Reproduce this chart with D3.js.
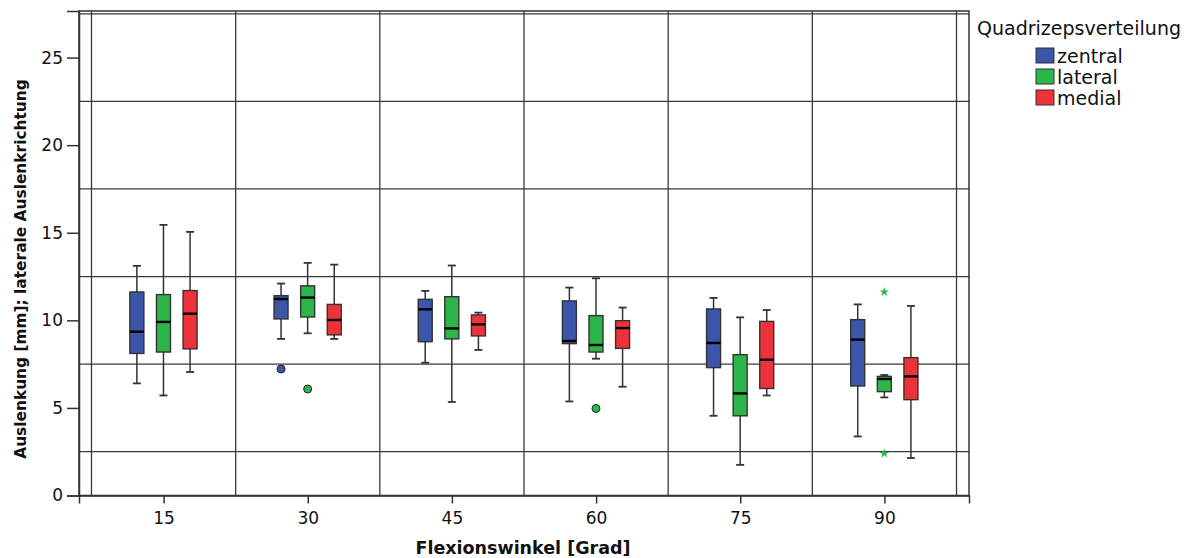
<!DOCTYPE html>
<html><head><meta charset="utf-8">
<script src="https://cdn.jsdelivr.net/npm/d3@7"></script>
<style>
html,body{margin:0;padding:0;background:#fff;}
svg{display:block;font-family:"DejaVu Sans",sans-serif;}
</style></head>
<body>
<svg id="chart" width="1194" height="558"></svg>
<script>
// Flexion angles (categories)
const angles = [15, 30, 45, 60, 75, 90];
const groups = ["zentral", "lateral", "medial"];
const colors = ["#3b56a8", "#2cb64a", "#ee3239"];
// five-number summaries per angle: [min, q1, median, q3, max]
const zentral = [
  [6.40, 8.11, 9.35, 11.62, 13.11],
  [8.94, 10.08, 11.22, 11.41, 12.10],
  [7.58, 8.78, 10.63, 11.20, 11.68],
  [5.37, 8.67, 8.82, 11.11, 11.87],
  [4.55, 7.30, 8.71, 10.65, 11.28],
  [3.37, 6.25, 8.90, 10.04, 10.91]
];
const lateral = [
  [5.71, 8.19, 9.91, 11.47, 15.45],
  [9.26, 10.19, 11.30, 11.97, 13.28],
  [5.34, 8.94, 9.54, 11.35, 13.13],
  [7.81, 8.19, 8.59, 10.27, 12.40],
  [1.75, 4.55, 5.83, 8.04, 10.17],
  [5.60, 5.93, 6.65, 6.80, 6.88]
];
const medial = [
  [7.05, 8.37, 10.38, 11.70, 15.05],
  [8.94, 9.17, 10.02, 10.91, 13.18],
  [8.31, 9.11, 9.77, 10.31, 10.44],
  [6.21, 8.40, 9.56, 9.98, 10.73],
  [5.71, 6.11, 7.75, 9.94, 10.59],
  [2.14, 5.47, 6.80, 7.87, 10.82]
];
// outliers (circles): [angle, group, value]
const outliers = [[30, "zentral", 7.22], [30, "lateral", 6.08], [60, "lateral", 4.97]];
// extreme values (stars)
const extremes = [[90, "lateral", 11.62], [90, "lateral", 2.40]];
const yTicks = [0, 5, 10, 15, 20, 25];
const yGrid = [2.5, 7.5, 12.5, 17.5, 22.5, 27.5];
const xGrid = [7.5, 22.5, 37.5, 52.5, 67.5, 82.5, 97.5];

const stats = {zentral, lateral, medial};
const svg = d3.select("#chart");
const L = 79, R = 969, T = 11, B = 495.5;
const x = d3.scaleLinear().domain([6.2, 98.8]).range([L, R]);
const y = d3.scaleLinear().domain([0, 27.66]).range([B, T]);
const off = d3.scalePoint().domain(groups).range([-26.7, 26.5]);
const color = d3.scaleOrdinal().domain(groups).range(colors);
const bw = 14;

const gridCol = "#3a3a3a";
// gridlines
svg.append("g").selectAll("line").data(yGrid).join("line")
  .attr("x1", L).attr("x2", R).attr("y1", d => y(d)).attr("y2", d => y(d))
  .attr("stroke", gridCol).attr("stroke-width", 1.3);
svg.append("g").selectAll("line").data(xGrid).join("line")
  .attr("x1", d => x(d)).attr("x2", d => x(d)).attr("y1", T).attr("y2", B)
  .attr("stroke", gridCol).attr("stroke-width", 1.3);
// frame
svg.append("rect").attr("x", L).attr("y", T).attr("width", R - L).attr("height", B - T)
  .attr("fill", "none").attr("stroke", "#333").attr("stroke-width", 1.5);

// axes
const yAxis = d3.axisLeft(y).tickValues(yTicks).tickSize(12).tickPadding(4).tickFormat(d3.format("d"));
const gy = svg.append("g").attr("transform", `translate(${L},0)`).call(yAxis);
gy.select(".domain").attr("stroke", "#333").attr("stroke-width", 1.5);
gy.selectAll(".tick line").attr("stroke", "#333").attr("stroke-width", 1.5);
gy.selectAll("text").attr("font-size", 17).attr("fill", "#111").attr("font-family", "DejaVu Sans");

const xAxis = d3.axisBottom(x).tickValues(angles).tickSize(8).tickPadding(8).tickFormat(d3.format("d"));
const gx = svg.append("g").attr("transform", `translate(0,${B})`).call(xAxis);
gx.select(".domain").attr("stroke", "#333").attr("stroke-width", 1.5);
gx.selectAll(".tick line").attr("stroke", "#333").attr("stroke-width", 1.5);
gx.selectAll("text").attr("font-size", 17).attr("fill", "#111").attr("font-family", "DejaVu Sans");

// axis titles
svg.append("text").attr("x", 523).attr("y", 554).attr("text-anchor", "middle")
  .attr("font-weight", "bold").attr("font-size", 17.5).attr("fill", "#111")
  .text("Flexionswinkel [Grad]");
svg.append("text").attr("transform", "translate(26,269) rotate(-90)").attr("text-anchor", "middle")
  .attr("font-weight", "bold").attr("font-size", 15.4).attr("fill", "#111")
  .text("Auslenkung [mm]; laterale Auslenkrichtung");

// boxes
const boxData = [];
groups.forEach(g => stats[g].forEach((s, i) => boxData.push({g, a: angles[i], s})));
const bg = svg.append("g").selectAll("g").data(boxData).join("g")
  .attr("transform", d => `translate(${x(d.a) + off(d.g)},0)`);
const wc = "#333";
bg.append("line").attr("x1", 0).attr("x2", 0).attr("y1", d => y(d.s[4])).attr("y2", d => y(d.s[0]))
  .attr("stroke", wc).attr("stroke-width", 1.5);
bg.append("line").attr("x1", -4).attr("x2", 4).attr("y1", d => y(d.s[4])).attr("y2", d => y(d.s[4]))
  .attr("stroke", wc).attr("stroke-width", 1.8);
bg.append("line").attr("x1", -4).attr("x2", 4).attr("y1", d => y(d.s[0])).attr("y2", d => y(d.s[0]))
  .attr("stroke", wc).attr("stroke-width", 1.8);
bg.append("rect").attr("x", -bw / 2).attr("width", bw)
  .attr("y", d => y(d.s[3])).attr("height", d => y(d.s[1]) - y(d.s[3]))
  .attr("fill", d => color(d.g)).attr("stroke", "#333").attr("stroke-width", 1.4);
bg.append("line").attr("x1", -bw / 2).attr("x2", bw / 2).attr("y1", d => y(d.s[2])).attr("y2", d => y(d.s[2]))
  .attr("stroke", "#000").attr("stroke-width", 2.4);

// outliers
svg.append("g").selectAll("circle").data(outliers).join("circle")
  .attr("cx", d => x(d[0]) + off(d[1])).attr("cy", d => y(d[2])).attr("r", 4)
  .attr("fill", d => color(d[1])).attr("stroke", "#222").attr("stroke-width", 1);
svg.append("g").selectAll("path").data(extremes).join("path")
  .attr("transform", d => `translate(${x(d[0]) + off(d[1])},${y(d[2])})`)
  .attr("d", d3.symbol(d3.symbolStar, 28)).attr("fill", d => color(d[1]));

// legend
const lg = svg.append("g");
lg.append("text").attr("x", 977).attr("y", 35).attr("font-size", 19).attr("fill", "#111")
  .text("Quadrizepsverteilung");
const li = lg.selectAll("g.item").data(groups).join("g").attr("class", "item")
  .attr("transform", (d, i) => `translate(1036,${48 + i * 21})`);
li.append("rect").attr("width", 18).attr("height", 15).attr("fill", d => color(d))
  .attr("stroke", "#333").attr("stroke-width", 1);
li.append("text").attr("x", 21).attr("y", 14.5).attr("font-size", 19).attr("fill", "#111").text(d => d);
</script>
</body></html>
